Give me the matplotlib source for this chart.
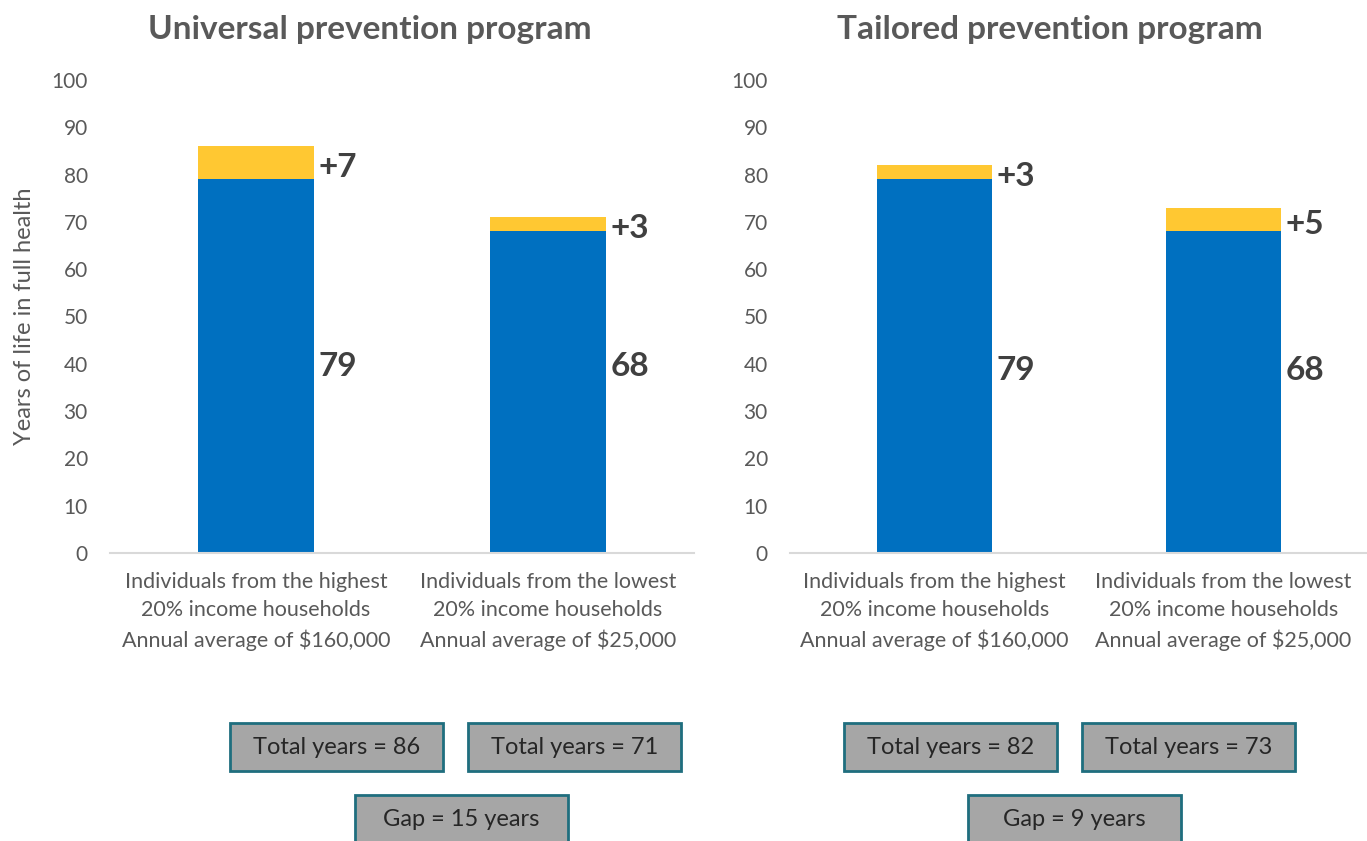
import numpy as np
import matplotlib.pyplot as plt
from matplotlib.patches import Rectangle

plt.rcParams['font.family'] = ['Lato', 'DejaVu Sans']

# %% DATA
programs = ['Universal prevention program', 'Tailored prevention program']
groups = ['Individuals from the highest\n20% income households\nAnnual average of $160,000',
          'Individuals from the lowest\n20% income households\nAnnual average of $25,000']
baseline = [79, 68]
gains = [[7, 3],   # universal
         [3, 5]]   # tailored
yticks = list(range(0, 101, 10))

BLUE = '#0070C0'
YELLOW = '#FFC832'
GREY = '#595959'
DARK = '#404040'

W, H = 1367, 841
fig = plt.figure(figsize=(W / 100, H / 100), dpi=100)

# axes placed in pixels (left, right) -> figure fractions
ax_px = [(110, 694), (790, 1368)]
title_x = [370, 1050]
y0, y1 = 553, 80


def box(x, y, w, h, txt):
    # pixel box -> figure fraction
    r = Rectangle((x / W, 1 - (y + h) / H), w / W, h / H, transform=fig.transFigure,
                  facecolor='#A6A6A6', edgecolor='#1F6E7E', linewidth=2, clip_on=False)
    fig.add_artist(r)
    fig.text((x + w / 2) / W, 1 - (y + 25) / H, txt, ha='center', va='center',
             fontsize=17, color='#262626')


boxes_px = [[(230, 723), (468, 723), (355, 795)],
            [(844, 723), (1082, 723), (968, 795)]]

for i, (prog, gain) in enumerate(zip(programs, gains)):
    xl, xr = ax_px[i]
    ax = fig.add_axes([xl / W, 1 - y0 / H, (xr - xl) / W, (y0 - y1) / H])
    x = np.arange(len(groups))
    ax.bar(x, baseline, width=0.4, color=BLUE, zorder=2)
    ax.bar(x, gain, width=0.4, bottom=baseline, color=YELLOW, zorder=2)
    lab_y = max(baseline) / 2 - i
    for xi, b, g in zip(x, baseline, gain):
        ax.annotate(str(b), (xi + 0.2, lab_y), xytext=(3, 0),
                    textcoords='offset points', ha='left', va='center',
                    fontsize=24, fontweight='bold', color=DARK)
        ax.annotate('+%d' % g, (xi + 0.2, b + g / 2 - 1), xytext=(3, 0),
                    textcoords='offset points', ha='left', va='center',
                    fontsize=24, fontweight='bold', color=DARK)
    ax.set_xlim(-0.5, 1.5)
    ax.set_ylim(0, 100)
    ax.set_yticks(yticks)
    ax.set_xticks(x)
    ax.set_xticklabels(groups, fontsize=15.5, color=GREY, linespacing=1.5)
    ax.tick_params(axis='both', length=0, labelsize=15, labelcolor=GREY)
    ax.tick_params(axis='x', labelsize=15.5, pad=14)
    ax.tick_params(axis='y', pad=16)
    for s in ['top', 'right', 'left']:
        ax.spines[s].set_visible(False)
    ax.spines['bottom'].set_color('#D9D9D9')
    ax.spines['bottom'].set_linewidth(1.5)
    fig.text(title_x[i] / W, 1 - 39 / H, prog, ha='center', va='baseline',
             fontsize=24, fontweight='bold', color=GREY)
    if i == 0:
        ax.set_ylabel('Years of life in full health', fontsize=17, color=GREY, labelpad=12)

    totals = [b + g for b, g in zip(baseline, gain)]
    bp = boxes_px[i]
    box(bp[0][0], bp[0][1], 213, 48, 'Total years = %d' % totals[0])
    box(bp[1][0], bp[1][1], 213, 48, 'Total years = %d' % totals[1])
    box(bp[2][0], bp[2][1], 213, 48, 'Gap = %d years' % (totals[0] - totals[1]))

fig.savefig('out.png', dpi=100)
